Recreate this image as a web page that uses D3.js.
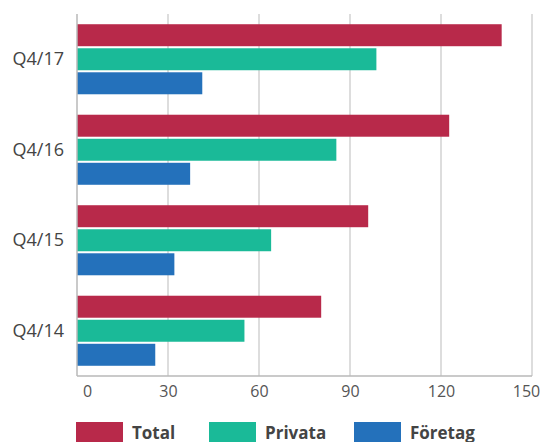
<!DOCTYPE html>
<html>
<head>
<meta charset="utf-8">
<script src="https://cdn.jsdelivr.net/npm/d3@7"></script>
<style>
  body { margin: 0; background: #fff; }
  svg { font-family: "Open Sans", sans-serif; }
</style>
</head>
<body>
<div class="chart"></div>
<script>
// Chart data
const categories = ['Q4/17', 'Q4/16', 'Q4/15', 'Q4/14'];
const seriesNames = ['Total', 'Privata', 'Företag'];
const seriesColors = ['#b8294a', '#1aba98', '#2471bb'];
const totalValues = [140, 122.7, 96, 80.5];
const privataValues = [98.7, 85.5, 64, 55.2];
const foretagValues = [41.3, 37.3, 32.1, 25.8];
const xTicks = [0, 30, 60, 90, 120, 150];

const W = 543, H = 442;
const margin = { left: 77, right: 11, top: 14, bottom: 66 };
const w = W - margin.left - margin.right;
const h = H - margin.top - margin.bottom;

const svg = d3.select('.chart').append('svg')
    .attr('width', W).attr('height', H);

const g = svg.append('g')
    .attr('transform', 'translate(' + margin.left + ',' + margin.top + ')');

const x = d3.scaleLinear().domain([0, 150]).range([0, w]);
const y = d3.scaleBand().domain(categories).range([0, h])
    .paddingInner(0.226).paddingOuter(0.113);
const ySub = d3.scaleBand().domain(seriesNames).range([0, y.bandwidth()])
    .paddingInner(0.085);

// Gridlines
g.append('g').attr('class', 'grid')
  .selectAll('line').data(xTicks.slice(1)).enter()
  .append('line')
    .attr('x1', d => x(d)).attr('x2', d => x(d))
    .attr('y1', 0).attr('y2', h)
    .attr('stroke', '#c6c6c6').attr('stroke-width', 1.2);

// Bars
const rows = categories.map((c, i) => ({
    cat: c,
    values: [totalValues[i], privataValues[i], foretagValues[i]]
}));

const groups = g.selectAll('.data-block').data(rows).enter()
  .append('g').attr('class', 'data-block')
  .attr('transform', d => 'translate(0,' + y(d.cat) + ')');

groups.selectAll('rect')
  .data(d => d.values.map((v, i) => ({ name: seriesNames[i], value: v, color: seriesColors[i] })))
  .enter().append('rect')
    .attr('x', 0)
    .attr('y', d => ySub(d.name))
    .attr('width', d => x(d.value))
    .attr('height', ySub.bandwidth())
    .attr('fill', d => d.color);

// Axis lines
g.append('line').attr('x1', 0).attr('x2', 0).attr('y1', 0).attr('y2', h)
  .attr('stroke', '#b8b8b8').attr('stroke-width', 1.5);
g.append('line').attr('x1', 0).attr('x2', w).attr('y1', h).attr('y2', h)
  .attr('stroke', '#b8b8b8').attr('stroke-width', 1.5);

// X axis labels
const xAxis = g.append('g').attr('class', 'x-axis')
  .attr('transform', 'translate(0,' + h + ')')
  .call(d3.axisBottom(x).tickValues(xTicks).tickSize(0).tickPadding(10));
xAxis.select('.domain').remove();
xAxis.selectAll('text')
  .attr('font-family', '"Open Sans", sans-serif')
  .attr('font-size', 16).attr('fill', '#555')
  .attr('dx', (d, i) => i === 0 ? 10 : (i === xTicks.length - 1 ? -6 : 0));

// Y axis labels
const yAxis = g.append('g').attr('class', 'y-axis')
  .call(d3.axisLeft(y).tickSize(0).tickPadding(13));
yAxis.select('.domain').remove();
yAxis.selectAll('text')
  .attr('font-family', '"Open Sans", sans-serif')
  .attr('font-size', 18).attr('fill', '#444');

// Legend
const legendX = [76, 209, 354];
const legend = svg.append('g').attr('class', 'legend')
  .selectAll('g').data(seriesNames).enter()
  .append('g')
  .attr('transform', (d, i) => 'translate(' + legendX[i] + ',422)');
legend.append('rect')
  .attr('width', 47).attr('height', 22)
  .attr('fill', (d, i) => seriesColors[i]);
legend.append('text')
  .attr('x', 56).attr('y', 17)
  .attr('font-size', 17).attr('font-weight', 'bold').attr('fill', '#444')
  .text(d => d);
</script>
</body>
</html>
